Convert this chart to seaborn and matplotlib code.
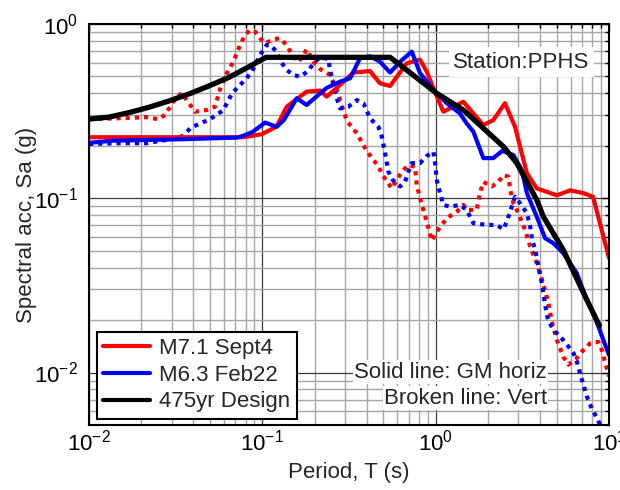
import numpy as np
import pandas as pd
import matplotlib
matplotlib.use("Agg")
import matplotlib.pyplot as plt
import seaborn as sns
from matplotlib.ticker import LogLocator, LogFormatterSciNotation, NullFormatter

# ---------------- data ----------------
design_T = [0.01, 0.013, 0.017, 0.0222, 0.029, 0.0378, 0.0492, 0.0642, 0.0838, 0.105,
            0.546, 1.015, 1.445, 2.46, 2.94, 3.83, 4.18, 5.45, 7.45, 8.8]
design_Sa = [0.285, 0.292, 0.310, 0.333, 0.362, 0.397, 0.441, 0.494, 0.569, 0.644,
             0.644, 0.400, 0.321, 0.198, 0.159, 0.098, 0.0785, 0.0505, 0.0261, 0.0186]

sep_h_T = [0.01, 0.0335, 0.0774, 0.0993, 0.121, 0.138, 0.180, 0.215, 0.235, 0.281,
           0.335, 0.418, 0.477, 0.546, 0.681, 0.812, 0.889, 0.970, 1.107, 1.445,
           1.884, 2.15, 2.51, 2.87, 3.36, 3.83, 5.0, 5.97, 7.12, 8.09, 10.0]
sep_h_Sa = [0.224, 0.224, 0.224, 0.233, 0.258, 0.335, 0.409, 0.415, 0.383, 0.447,
            0.527, 0.537, 0.457, 0.441, 0.595, 0.625, 0.532, 0.428, 0.314, 0.358,
            0.263, 0.281, 0.351, 0.257, 0.139, 0.114, 0.104, 0.111, 0.107, 0.102, 0.0454]

feb_h_T = [0.01, 0.0137, 0.0335, 0.0711, 0.0774, 0.0883, 0.1037, 0.121, 0.133, 0.158,
           0.180, 0.235, 0.281, 0.321, 0.366, 0.418, 0.477, 0.546, 0.624, 0.728,
           0.812, 0.970, 1.16, 1.38, 1.51, 1.65, 1.884, 2.15, 2.42, 2.81,
           3.14, 3.36, 3.83, 4.28, 4.78, 5.45, 6.52, 7.45, 8.13, 10.0]
feb_h_Sa = [0.208, 0.214, 0.218, 0.223, 0.228, 0.241, 0.272, 0.257, 0.281, 0.375,
            0.343, 0.430, 0.467, 0.488, 0.636, 0.653, 0.608, 0.527, 0.608, 0.694,
            0.523, 0.418, 0.351, 0.307, 0.269, 0.241, 0.170, 0.170, 0.187, 0.177,
            0.145, 0.107, 0.0784, 0.059, 0.0552, 0.0484, 0.0372, 0.0261, 0.0219, 0.0126]

sep_v_T = [0.01, 0.0151, 0.0215, 0.0251, 0.0275, 0.0306, 0.0343, 0.0366, 0.0409, 0.0478,
           0.0533, 0.057, 0.0624, 0.0681, 0.0744, 0.0795, 0.085, 0.0908, 0.097, 0.1037,
           0.116, 0.126, 0.138, 0.151, 0.161, 0.173, 0.180, 0.197, 0.215, 0.246,
           0.269, 0.307, 0.351, 0.400, 0.467, 0.499, 0.558, 0.597, 0.637, 0.696,
           0.760, 0.778, 0.832, 0.889, 0.949, 1.015, 1.159, 1.324, 1.445, 1.51,
           1.725, 1.80, 1.884, 2.11, 2.30, 2.46, 2.63, 2.69, 2.81, 3.0,
           3.28, 3.51, 3.83, 4.18, 4.47, 4.68, 5.0, 5.45, 5.83, 6.52,
           7.12, 7.77, 8.68, 9.08, 9.71, 10.0]
sep_v_Sa = [0.284, 0.288, 0.292, 0.284, 0.301, 0.358, 0.403, 0.366, 0.314, 0.321,
            0.335, 0.422, 0.521, 0.608, 0.758, 0.865, 0.924, 0.904, 0.828, 0.775,
            0.817, 0.828, 0.758, 0.649, 0.605, 0.664, 0.716, 0.608, 0.552, 0.510,
            0.418, 0.278, 0.236, 0.187, 0.152, 0.134, 0.114, 0.127, 0.142, 0.155,
            0.152, 0.119, 0.0916, 0.0734, 0.0571, 0.0643, 0.0768, 0.0838, 0.0916, 0.0857,
            0.0857, 0.107, 0.124, 0.117, 0.124, 0.136, 0.133, 0.112, 0.0936, 0.082,
            0.0658, 0.0528, 0.0424, 0.0322, 0.025, 0.0196, 0.0154, 0.0123, 0.0111, 0.0121,
            0.0135, 0.0147, 0.015, 0.0135, 0.0106, 0.0095]

feb_v_T = [0.01, 0.0151, 0.0215, 0.0293, 0.035, 0.0383, 0.0437, 0.0488, 0.0545, 0.0596,
           0.0666, 0.0727, 0.0795, 0.0869, 0.097, 0.106, 0.111, 0.121, 0.126, 0.138,
           0.151, 0.165, 0.184, 0.197, 0.215, 0.240, 0.246, 0.257, 0.269, 0.281,
           0.313, 0.351, 0.383, 0.418, 0.467, 0.489, 0.511, 0.534, 0.566, 0.624,
           0.665, 0.696, 0.728, 0.812, 0.889, 0.970, 0.992, 1.015, 1.06, 1.107,
           1.21, 1.38, 1.51, 1.65, 1.97, 2.25, 2.46, 2.57, 2.69, 2.87,
           3.07, 3.36, 3.51, 3.59, 3.75, 3.92, 4.10, 4.28, 4.47, 4.89,
           5.34, 5.83, 6.24, 6.52, 6.97, 7.45, 7.96, 8.51, 8.89, 10.0]
feb_v_Sa = [0.205, 0.207, 0.207, 0.218, 0.228, 0.252, 0.269, 0.281, 0.301, 0.321,
            0.397, 0.437, 0.477, 0.532, 0.664, 0.758, 0.758, 0.694, 0.622, 0.545,
            0.510, 0.499, 0.537, 0.595, 0.643, 0.630, 0.545, 0.447, 0.375, 0.328,
            0.335, 0.366, 0.351, 0.288, 0.257, 0.226, 0.181, 0.142, 0.127, 0.117,
            0.124, 0.142, 0.159, 0.159, 0.175, 0.185, 0.159, 0.127, 0.107, 0.0916,
            0.0895, 0.0916, 0.0857, 0.0719, 0.0703, 0.0703, 0.0664, 0.0734, 0.0838, 0.102,
            0.0936, 0.082, 0.0687, 0.0589, 0.0505, 0.0405, 0.0325, 0.0244, 0.0196, 0.0172,
            0.0157, 0.0141, 0.0129, 0.0116, 0.0091, 0.0073, 0.0062, 0.0055, 0.0050, 0.0036]

legend_labels = ["M7.1 Sept4", "M6.3 Feb22", "475yr Design"]

# ---------------- style ----------------
sns.set_style("white")
plt.rcParams['font.family'] = ['Liberation Sans', 'DejaVu Sans']
plt.rcParams['mathtext.fontset'] = 'custom'
plt.rcParams['mathtext.rm'] = 'Liberation Sans'
plt.rcParams['mathtext.it'] = 'Liberation Sans:italic'
FS = 16

fig = plt.figure(figsize=(6.2, 4.9), dpi=100)
ax = fig.add_axes([89/620, 65/490, 520/620, 401/490])
ax.set_xscale('log')
ax.set_yscale('log')

# grid (MATLAB-like)
ax.set_axisbelow(True)
ax.grid(True, which='minor', color='#a6a6a6', lw=1.0)
ax.grid(True, which='major', color='#3a3a3a', lw=0.9)

dot = (0, (1, 1.2))
LW = 3.0
sns.lineplot(x=sep_v_T, y=sep_v_Sa, ax=ax, color='#ff0000', lw=LW, linestyle=dot,
             dash_capstyle='butt', label='_nolegend_', sort=False, estimator=None)
sns.lineplot(x=feb_v_T, y=feb_v_Sa, ax=ax, color='#0000ff', lw=LW, linestyle=dot,
             dash_capstyle='butt', label='_nolegend_', sort=False, estimator=None)
sns.lineplot(x=sep_h_T, y=sep_h_Sa, ax=ax, color='#ff0000', lw=LW,
             label=legend_labels[0], sort=False, estimator=None)
sns.lineplot(x=feb_h_T, y=feb_h_Sa, ax=ax, color='#0000ff', lw=LW,
             label=legend_labels[1], sort=False, estimator=None)
sns.lineplot(x=design_T, y=design_Sa, ax=ax, color='black', lw=3.8,
             label=legend_labels[2], sort=False, estimator=None)

ax.set_xlim(0.01, 10)
ax.set_ylim(0.005, 1)

# ticks
ax.xaxis.set_major_locator(LogLocator(base=10, numticks=10))
ax.yaxis.set_major_locator(LogLocator(base=10, numticks=10))
ax.xaxis.set_minor_locator(LogLocator(base=10, subs=np.arange(2, 10), numticks=20))
ax.yaxis.set_minor_locator(LogLocator(base=10, subs=np.arange(2, 10), numticks=20))
ax.xaxis.set_major_formatter(LogFormatterSciNotation())
ax.yaxis.set_major_formatter(LogFormatterSciNotation())
ax.xaxis.set_minor_formatter(NullFormatter())
ax.yaxis.set_minor_formatter(NullFormatter())
ax.tick_params(which='both', direction='in', top=True, right=True, colors='black',
               labelsize=FS, width=1.0)
ax.tick_params(which='major', length=5)
ax.tick_params(axis='y', which='major', pad=8)
ax.tick_params(axis='x', which='major', pad=3)
ax.tick_params(which='minor', length=3)
for s in ax.spines.values():
    s.set_color('black')
    s.set_linewidth(1.5)

ax.set_xlabel("Period, T (s)", fontsize=FS, labelpad=5)
ax.set_ylabel("Spectral acc, Sa (g)", fontsize=FS, labelpad=-2)

# annotations
ax.text(0.963, 0.905, "Station:PPHS", transform=ax.transAxes, ha='right', va='center',
        fontsize=FS, bbox=dict(facecolor='white', edgecolor='none', pad=3))
ax.text(0.881, 0.132, "Solid line: GM horiz", transform=ax.transAxes, ha='right',
        va='center', fontsize=FS, bbox=dict(facecolor='white', edgecolor='none', pad=1))
ax.text(0.881, 0.067, "Broken line: Vert", transform=ax.transAxes, ha='right',
        va='center', fontsize=FS, bbox=dict(facecolor='white', edgecolor='none', pad=1))

leg = ax.legend(loc='lower left', bbox_to_anchor=(0.015, 0.015), borderaxespad=0,
                fontsize=FS, frameon=True, fancybox=False, framealpha=1,
                edgecolor='black', handlelength=2.1, handletextpad=0.4,
                labelspacing=0.25, borderpad=0.3)
leg.get_frame().set_linewidth(1.5)
for h in leg.get_lines():
    h.set_linewidth(3.0)

fig.savefig("out.png", dpi=100)
